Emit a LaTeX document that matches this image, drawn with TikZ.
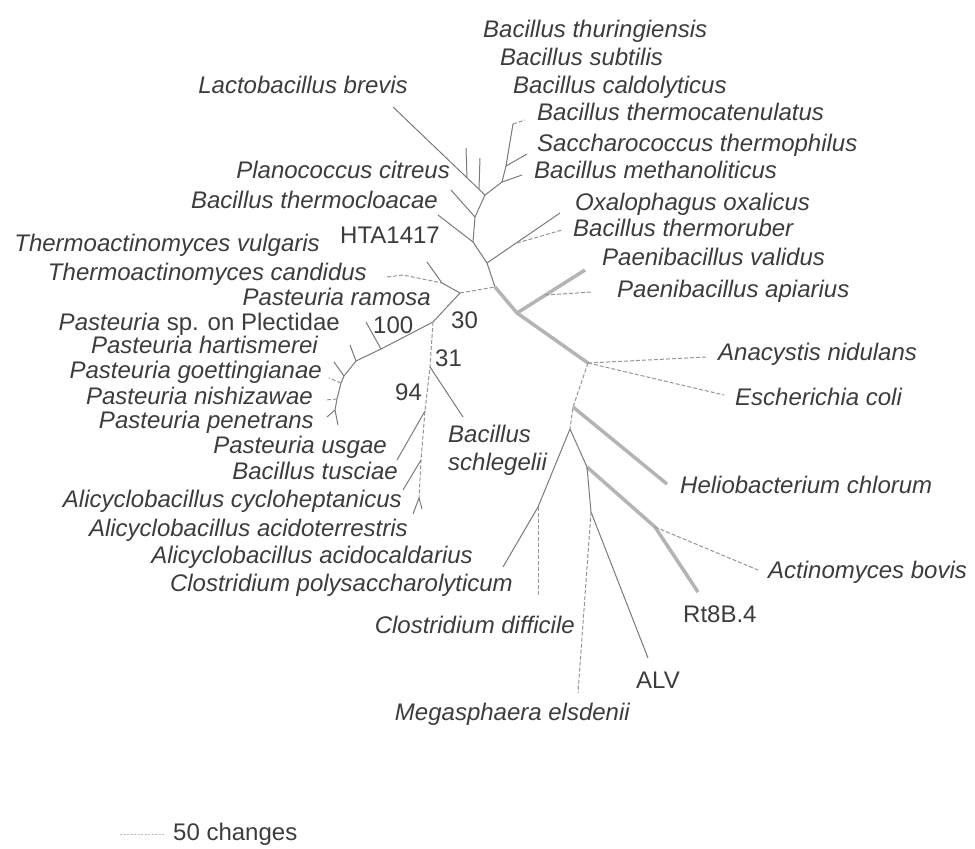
\documentclass[tikz,border=0pt]{standalone}
\usepackage{fontspec}
\setmainfont{Liberation Sans}
\definecolor{linegray}{HTML}{7A7A7A}
\definecolor{thickgray}{HTML}{B4B4B4}
\definecolor{txt}{HTML}{3C3C3C}
\begin{document}
\begin{tikzpicture}[x=1pt,y=-1pt,
 br/.style={draw=linegray, line width=1pt},
 brd/.style={draw=linegray!80, line width=1pt, dash pattern=on 4pt off 2pt},
 brt/.style={draw=thickgray, line width=3.5pt},
 lab/.style={inner sep=0pt, font=\fontsize{24}{28}\selectfont\itshape, text=txt},
 num/.style={inner sep=0pt, font=\fontsize{24}{28}\selectfont, text=txt}]
\useasboundingbox (0,0) rectangle (975,849);
% ---- coordinates
\coordinate (lb) at (393,107);
\coordinate (A) at (485,195);
\coordinate (t1b) at (467,178); \coordinate (t1) at (466,148);
\coordinate (t2b) at (479,189); \coordinate (t2) at (480,158);
\coordinate (B) at (502,182);
\coordinate (me) at (522,175);
\coordinate (Bs) at (506,166); \coordinate (sa) at (527,154);
\coordinate (Bt) at (513,124); \coordinate (tc) at (525,120);
\coordinate (pcb) at (475,217); \coordinate (pc) at (451,190);
\coordinate (tlb) at (473,242); \coordinate (tl) at (438,215);
\coordinate (O) at (487,263); \coordinate (ox) at (560,213);
\coordinate (trb) at (517,243); \coordinate (tr) at (562,230);
\coordinate (T1) at (495,287);
\coordinate (PJ) at (517,313); \coordinate (pv) at (585,270);
\coordinate (pab) at (545,295); \coordinate (pa) at (592,292);
\coordinate (R) at (588,363);
\coordinate (an) at (707,357); \coordinate (ec) at (724,395);
\coordinate (H) at (573,407); \coordinate (hc) at (667,484);
\coordinate (C) at (570,429);
\coordinate (G) at (538,507); \coordinate (cp) at (503,567); \coordinate (cd) at (538,595);
\coordinate (D) at (587,467); \coordinate (E) at (655,527);
\coordinate (rt) at (698,592); \coordinate (ab) at (758,570);
\coordinate (F) at (591,512); \coordinate (alv) at (648,658); \coordinate (mg) at (578,693);
% thermoactinomyces
\coordinate (tv) at (427,262); \coordinate (K) at (442,283);
\coordinate (tcd) at (387,277); \coordinate (tck) at (403,275);
\coordinate (J1) at (460,293);
% pasteuria
\coordinate (P0) at (433,322); \coordinate (P1) at (381,349);
\coordinate (P2) at (356,361); \coordinate (P3) at (344,376);
\coordinate (P3b) at (341,383); \coordinate (P4) at (337,399);
\coordinate (P5) at (335,410);
\coordinate (q1) at (366,322); \coordinate (q2) at (350,345);
\coordinate (q3) at (334,362); \coordinate (q4) at (329,378);
\coordinate (q5) at (325,400); \coordinate (q6) at (327,417);
\coordinate (q7) at (338,425);
\coordinate (N31) at (430,367); \coordinate (sc) at (463,417);
\coordinate (N94) at (425,411); \coordinate (us) at (397,460);
\coordinate (Nt) at (421,460); \coordinate (tu) at (403,490);
\coordinate (Nf) at (419,498); \coordinate (cy) at (413,514);
\coordinate (ac) at (422,509);
% scale bar
\coordinate (s1) at (120,834); \coordinate (s2) at (165,834);
% ---- branches
\draw[br] (lb) -- (A);
\draw[br] (t1b) -- (t1);
\draw[br] (t2b) -- (t2);
\draw[br] (A) -- (B) -- (me);
\draw[br] (B) -- (Bs) -- (sa);
\draw[br] (Bs) -- (Bt);
\draw[brd] (Bt) -- (tc);
\draw[br] (A) -- (pcb) -- (tlb) -- (O) -- (T1);
\draw[br] (pcb) -- (pc);
\draw[br] (tlb) -- (tl);
\draw[br] (O) -- (ox);
\draw[brd] (trb) -- (tr);
\draw[brt] (T1) -- (PJ) -- (R);
\draw[brt] (PJ) -- (pv);
\draw[brd] (pab) -- (pa);
\draw[brd] (R) -- (an);
\draw[brd] (R) -- (ec);
\draw[brd] (R) -- (H) -- (C);
\draw[brt] (H) -- (hc);
\draw[br] (C) -- (G) -- (cp);
\draw[brd] (G) -- (cd);
\draw[br] (C) -- (D);
\draw[brt] (D) -- (E) -- (rt);
\draw[brd] (E) -- (ab);
\draw[br] (D) -- (F) -- (alv);
\draw[brd] (F) -- (mg);
% thermoactinomyces / pasteuria
\draw[br] (tv) -- (K) -- (J1);
\draw[brd] (tcd) -- (tck) -- (K);
\draw[brd] (J1) -- (T1);
\draw[br] (J1) -- (P0) -- (P1) -- (P2) -- (P3) -- (P3b) -- (P4) -- (P5);
\draw[br] (P1) -- (q1);
\draw[br] (P2) -- (q2);
\draw[br] (P3) -- (q3);
\draw[brd] (P3b) -- (q4);
\draw[brd] (P4) -- (q5);
\draw[br] (P5) -- (q6);
\draw[br] (P5) -- (q7);
\draw[brd] (P0) -- (N31) -- (N94) -- (Nt) -- (Nf);
\draw[br] (N31) -- (sc);
\draw[br] (N94) -- (us);
\draw[br] (Nt) -- (tu);
\draw[br] (Nf) -- (cy);
\draw[br] (Nf) -- (ac);
\draw[draw=linegray!50, line width=1pt, dash pattern=on 2pt off 1.5pt] (s1) -- (s2);
% ---- labels left
\node[lab, anchor=base east] (Llb) at (408,93) {Lactobacillus brevis};
\node[lab, anchor=base east] (Lpc) at (450,178) {Planococcus citreus};
\node[lab, anchor=base east] (Ltl) at (438,208) {Bacillus thermocloacae};
\node[lab, anchor=base east] (Ltv) at (320,251) {Thermoactinomyces vulgaris};
\node[num, anchor=base east] (Lhta) at (440,243) {HTA1417};
\node[lab, anchor=base east] (Ltcd) at (367,280) {Thermoactinomyces candidus};
\node[lab, anchor=base east] (Lpr) at (431,305) {Pasteuria ramosa};
\node[lab, anchor=base east] (Lpp) at (340,330) {Pasteuria {\upshape sp. on Plectidae}};
\node[lab, anchor=base east] (Lph) at (318,353) {Pasteuria hartismerei};
\node[lab, anchor=base east] (Lpg) at (322,378) {Pasteuria goettingianae};
\node[lab, anchor=base east] (Lpn) at (313,404) {Pasteuria nishizawae};
\node[lab, anchor=base east] (Lppe) at (314,428) {Pasteuria penetrans};
\node[lab, anchor=base east] (Lpu) at (387,453) {Pasteuria usgae};
\node[lab, anchor=base east] (Lbt) at (398,479) {Bacillus tusciae};
\node[lab, anchor=base east] (Lacy) at (402,507) {Alicyclobacillus cycloheptanicus};
\node[lab, anchor=base east] (Laat) at (408,536) {Alicyclobacillus acidoterrestris};
\node[lab, anchor=base east] (Laac) at (473,563) {Alicyclobacillus acidocaldarius};
\node[lab, anchor=base east] (Lcp) at (513,591) {Clostridium polysaccharolyticum};
\node[lab, anchor=base east] (Lcd) at (575,633) {Clostridium difficile};
\node[lab, anchor=base east] (Lmg) at (630,720) {Megasphaera elsdenii};
% ---- labels right
\node[lab, anchor=base west] (Lbth) at (483,37) {Bacillus thuringiensis};
\node[lab, anchor=base west] (Lbs) at (500,65) {Bacillus subtilis};
\node[lab, anchor=base west] (Lbc) at (513,93) {Bacillus caldolyticus};
\node[lab, anchor=base west] (Lbtc) at (537,120) {Bacillus thermocatenulatus};
\node[lab, anchor=base west] (Lst) at (537,151) {Saccharococcus thermophilus};
\node[lab, anchor=base west] (Lbm) at (534,178) {Bacillus methanoliticus};
\node[lab, anchor=base west] (Lox) at (575,210) {Oxalophagus oxalicus};
\node[lab, anchor=base west] (Ltr) at (573,236) {Bacillus thermoruber};
\node[lab, anchor=base west] (Lpv) at (602,265) {Paenibacillus validus};
\node[lab, anchor=base west] (Lpa) at (617,297) {Paenibacillus apiarius};
\node[lab, anchor=base west] (Lan) at (718,360) {Anacystis nidulans};
\node[lab, anchor=base west] (Lec) at (735,405) {Escherichia coli};
\node[lab, anchor=base west] (Lsc1) at (448,442) {Bacillus};
\node[lab, anchor=base west] (Lsc2) at (448,470) {schlegelii};
\node[lab, anchor=base west] (Lhc) at (680,493) {Heliobacterium chlorum};
\node[lab, anchor=base west] (Lab) at (768,578) {Actinomyces bovis};
\node[num, anchor=base west] (Lrt) at (683,622) {Rt8B.4};
\node[num, anchor=base west] (Lalv) at (636,688) {ALV};
% ---- bootstrap values
\node[num, anchor=base west] (n100) at (373,333) {100};
\node[num, anchor=base west] (n30) at (451,328) {30};
\node[num, anchor=base west] (n31) at (435,366) {31};
\node[num, anchor=base west] (n94) at (395,400) {94};
\node[num, anchor=base west] (Lscale) at (173,840) {50 changes};
\end{tikzpicture}
\end{document}
